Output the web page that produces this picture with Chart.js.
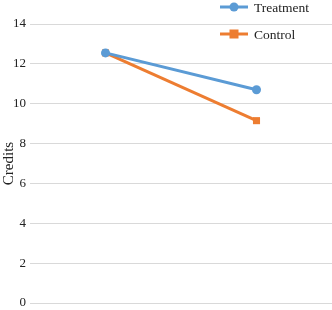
<!DOCTYPE html>
<html>
<head>
<meta charset="utf-8">
<script src="https://cdn.jsdelivr.net/npm/chart.js@4.4.0/dist/chart.umd.min.js"></script>
<style>
  html, body { margin: 0; padding: 0; background: #fff; }
  #wrap { width: 332px; height: 310px; position: relative; }
</style>
</head>
<body>
<div id="wrap"><canvas id="chart"></canvas></div>
<script>
const categories = ["Pre", "Post"];
const treatmentValues = [12.55, 10.7];
const controlValues = [12.55, 9.15];
const seriesLabels = ["Treatment", "Control"];
const yTicks = [0, 2, 4, 6, 8, 10, 12, 14];

const FONT = "Liberation Serif";

// legend drawn over the plot, top right, like the original
const overlayLegend = {
    id: "overlayLegend",
    afterDraw(chart) {
        const ctx = chart.ctx;
        const x0 = 220;
        const rows = [7, 34];
        ctx.save();
        chart.data.datasets.forEach(function (ds, i) {
            const y = rows[i];
            ctx.strokeStyle = ds.borderColor;
            ctx.lineWidth = 3;
            ctx.beginPath();
            ctx.moveTo(x0, y);
            ctx.lineTo(x0 + 28, y);
            ctx.stroke();
            ctx.fillStyle = ds.borderColor;
            if (ds.pointStyle === "rect") {
                ctx.fillRect(x0 + 14 - 4.5, y - 4.5, 9, 9);
            } else {
                ctx.beginPath();
                ctx.arc(x0 + 14, y, 4.5, 0, Math.PI * 2);
                ctx.fill();
            }
            ctx.fillStyle = "#222";
            ctx.font = "13.5px " + FONT;
            ctx.textBaseline = "middle";
            ctx.fillText(ds.label, x0 + 34, y + 1);
        });
        ctx.restore();
    },
};

const ctx = document.getElementById("chart").getContext("2d");
new Chart(ctx, {
    type: "line",
    data: {
        labels: categories,
        datasets: [
            {
                label: seriesLabels[0],
                data: treatmentValues,
                borderColor: "#5b9bd5",
                backgroundColor: "#5b9bd5",
                borderWidth: 3,
                pointStyle: "circle",
                pointRadius: 4.5,
                pointBorderWidth: 0,
                fill: false,
            },
            {
                label: seriesLabels[1],
                data: controlValues,
                borderColor: "#ed7d31",
                backgroundColor: "#ed7d31",
                borderWidth: 3,
                pointStyle: "rect",
                pointRadius: 5,
                pointBorderWidth: 0,
                fill: false,
            },
        ],
    },
    options: {
        responsive: true,
        maintainAspectRatio: false,
        animation: false,
        layout: { autoPadding: false, padding: { top: 24, right: 0, bottom: 7, left: 0 } },
        plugins: {
            legend: { display: false },
            title: { display: false },
            tooltip: { enabled: false },
        },
        scales: {
            x: {
                offset: true,
                grid: { display: false },
                border: { display: false },
                ticks: { display: false },
                afterFit(scale) {
                    scale.height = 0;
                    scale.paddingLeft = 0;
                    scale.paddingRight = 0;
                },
            },
            y: {
                min: 0,
                max: 14,
                afterBuildTicks(scale) {
                    scale.ticks = yTicks.map(function (v) { return { value: v }; });
                },
                afterFit(scale) {
                    scale.width = 30;
                    scale.paddingTop = 0;
                    scale.paddingBottom = 0;
                },
                grid: { color: "#d9d9d9", lineWidth: 1, drawTicks: false },
                border: { display: false },
                ticks: {
                    padding: 4,
                    color: "#222",
                    font: { family: FONT, size: 13 },
                },
                title: {
                    display: true,
                    text: "Credits",
                    color: "#222",
                    padding: { top: 0, bottom: 0 },
                    font: { family: FONT, size: 15 },
                },
            },
        },
    },
    plugins: [overlayLegend],
});
</script>
</body>
</html>
